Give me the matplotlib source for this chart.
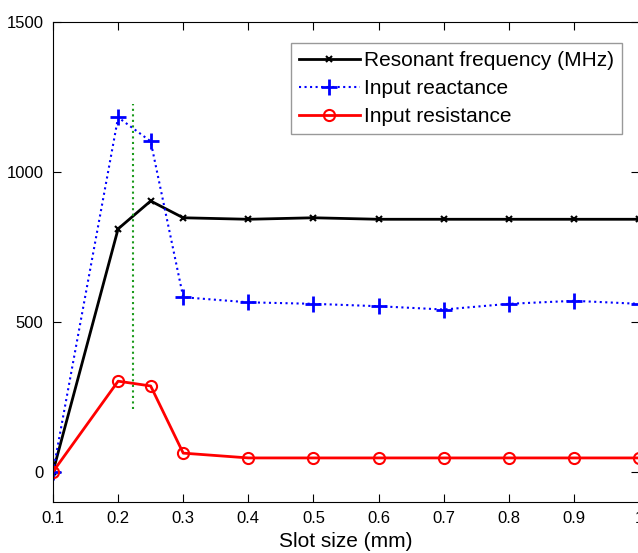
import numpy as np
import matplotlib
matplotlib.use("Agg")
import matplotlib.pyplot as plt

plt.rcParams['font.family'] = ['Liberation Sans', 'DejaVu Sans']

# slot size (mm)
slot = [0.1, 0.2, 0.25, 0.3, 0.4, 0.5, 0.6, 0.7, 0.8, 0.9, 1.0]
freq = [0, 810, 903, 847, 842, 847, 842, 842, 842, 842, 842]
reactance = [0, 1182, 1102, 582, 565, 560, 552, 541, 560, 570, 560]
resistance = [0, 302, 286, 62, 46, 46, 46, 46, 46, 46, 46]

# green marker line
vline_x = 0.223
vline_y = [210, 1225]

fig = plt.figure(figsize=(6.38, 5.53), dpi=100)
ax = fig.add_axes([53/638, 1-501.7/553, 586/638, (501.7-22)/553])

ax.plot(slot, freq, 'k-x', lw=2, ms=5, mew=1.5, label='Resonant frequency (MHz)')
ax.plot(slot, reactance, color='#0000ff', ls=':', lw=1.5, marker='+', ms=11, mew=2,
        label='Input reactance')
ax.plot(slot, resistance, color='#ff0000', ls='-', lw=2, marker='o', ms=8, mfc='none',
        mew=1.5, label='Input resistance')
ax.plot([vline_x, vline_x], vline_y, color='#1a9a1a', ls=':', lw=1.5)

ax.set_xlim(0.1, 1.0)
ax.set_ylim(-100, 1500)
ax.set_xticks(np.arange(0.1, 1.01, 0.1))
ax.set_xticklabels(['0.1', '0.2', '0.3', '0.4', '0.5', '0.6', '0.7', '0.8', '0.9', '1'])
ax.set_yticks([0, 500, 1000, 1500])
ax.tick_params(direction='in', top=True, right=True, labelsize=12, length=6, pad=7)
ax.set_xlabel('Slot size (mm)', fontsize=15, labelpad=4)

leg = ax.legend(loc='upper right', bbox_to_anchor=(0.971, 0.956), fontsize=15,
                fancybox=False, edgecolor='#999999', framealpha=1,
                handlelength=2.9, handletextpad=0.2, borderpad=0.4,
                labelspacing=0.42, borderaxespad=0)

fig.savefig('out.png', dpi=100)
